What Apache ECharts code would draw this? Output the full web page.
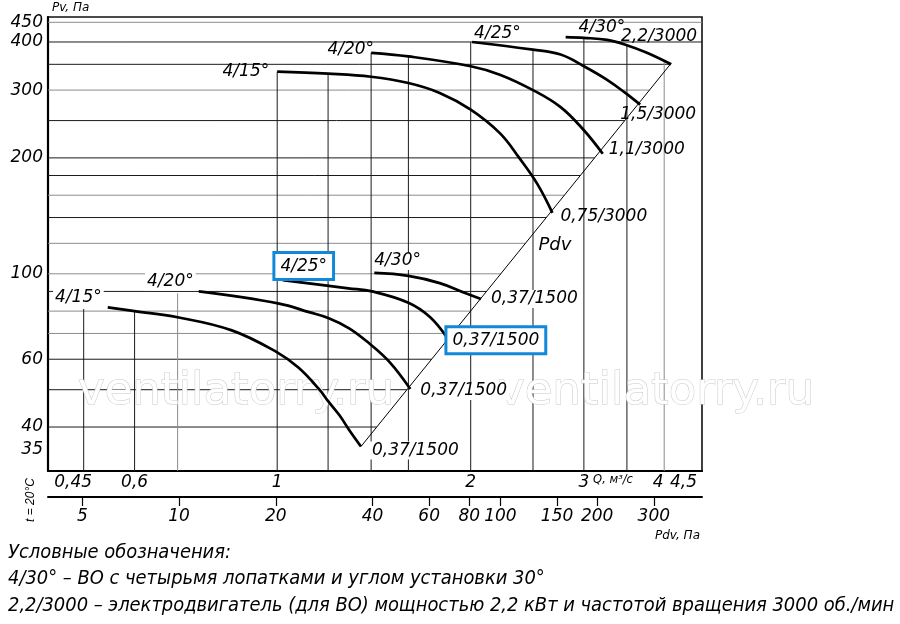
<!DOCTYPE html>
<html>
<head>
<meta charset="utf-8">
<script src="https://cdn.jsdelivr.net/npm/echarts@6/dist/echarts.min.js"></script>
<style>
    html, body { margin: 0; padding: 0; background: #fff; }
    #chart { width: 900px; height: 624px; }
</style>
</head>
<body>
<div id="chart"></div>
<script>
// диапазоны осей (края рамки графика)
const qMin = 0.44, qMax = 4.58;
const pMin = 30.75, pMax = 464.5;
const kDv = 20.2; // нижняя шкала: Pdv = kDv * Q^2

// подписи шкал
const qTicks = [0.45, 0.6, 1, 2, 3, 4, 4.5];
const qNameAt = 3.33;
const pTicks = [35, 40, 60, 100, 200, 300, 400, 450];
const dvTicks = [5, 10, 20, 40, 60, 80, 100, 150, 200, 300];

// сетка: горизонтальные линии доходят до линии Pdv, вертикальные - до кривых
const gridP = [40, 50, 60, 70, 80, 90, 100, 120, 140, 160, 180, 200, 250, 300, 350, 400, 450];
const gridPGray = [450, 300, 160, 120, 100, 80, 70];
const gridQ = [0.5, 0.6, 0.7, 1, 1.2, 1.4, 1.6, 2, 2.5, 3, 3.5, 4];
const gridQTop = [81, 80, 89, 335, 331, 375, 367, 400, 383, 410, 394, 357];
const gridQGray = [0.7, 4];

// линия динамического давления Pdv
const qDv = [1.35, 4.1];
const pDv = [35.6, 352];

// 3000 об/мин
const q15hi = [1.0, 1.2, 1.4, 1.6, 1.79, 2.0, 2.22, 2.38, 2.54, 2.68];
const p15hi = [335, 331, 325, 313, 295, 267, 232, 200, 171, 144];
const q20hi = [1.4, 1.6, 2.0, 2.22, 2.5, 2.76, 3.0, 3.21];
const p20hi = [375, 367, 346, 329, 300, 271, 236, 205];
const q25hi = [2.01, 2.5, 2.76, 3.0, 3.26, 3.48, 3.67];
const p25hi = [400, 382, 371, 346, 319, 295, 275];
const q30hi = [2.81, 3.0, 3.26, 3.49, 3.76, 4.1];
const p30hi = [412, 410, 405, 393, 375, 350];

// 1500 об/мин
const q15lo = [0.545, 0.6, 0.7, 0.85, 1.0, 1.08, 1.16, 1.2, 1.25, 1.294, 1.35];
const p15lo = [81.8, 80, 77.1, 71.3, 62.5, 57.0, 50.3, 46.7, 42.9, 39.3, 35.6];
const q20lo = [0.755, 1.007, 1.121, 1.203, 1.294, 1.39, 1.497, 1.611];
const p20lo = [90, 83.7, 79.5, 76.7, 72.2, 66, 58.9, 50.2];
const q25lo = [1.02, 1.29, 1.405, 1.6, 1.73, 1.84];
const p25lo = [96.3, 91.7, 90, 84.1, 77.1, 68];
const q30lo = [1.416, 1.6, 1.79, 1.965, 2.075];
const p30lo = [100.5, 98.8, 94.6, 89, 86];

const legendLines = [
    "Условные обозначения:",
    "4/30° – ВО с четырьмя лопатками и углом установки 30°",
    "2,2/3000 – электродвигатель (для ВО) мощностью 2,2 кВт и частотой вращения 3000 об./мин",
];

const boxBlue = "#1288d8";
const font = "DejaVu Sans";
const legendFamily = '"DejaVu Sans Condensed", "Liberation Sans"';
const labelFont = { fontFamily: font, fontStyle: "italic", fontSize: 17, color: "#000" };

/**
 * точка кривой (i < 0 - с конца)
 */
function pt(q, p, i) {
    const k = i < 0 ? q.length + i : i;
    return [q[k], p[k]];
}

/**
 * где горизонталь P пересекает линию Pdv (лог-лог прямая)
 */
function qOnDv(p) {
    const t = (Math.log10(p) - Math.log10(pDv[0])) / (Math.log10(pDv[1]) - Math.log10(pDv[0]));
    if (t > 1) return qMax;
    return Math.pow(10, Math.log10(qDv[0]) + t * (Math.log10(qDv[1]) - Math.log10(qDv[0])));
}

/**
 * размер шрифта, при котором строка займёт нужную ширину
 */
function fitFontSize(text, family, width) {
    const ctx = document.createElement("canvas").getContext("2d");
    ctx.font = "italic 100px " + family;
    return Math.min(24, (100 * width) / ctx.measureText(text).width);
}

function segment(points, color) {
    return {
        type: "line",
        data: points,
        symbol: "none",
        silent: true,
        z: 2,
        lineStyle: { color, width: 1 },
    };
}

function curve(q, p) {
    return {
        type: "line",
        data: q.map((v, i) => [v, p[i]]),
        symbol: "none",
        smooth: 0.4,
        z: 5,
        lineStyle: { color: "#000", width: 2.7 },
    };
}

function labelItem(pos, text, align, dx, dy, kind, size) {
    const label = Object.assign({
        show: true,
        formatter: text,
        position: "inside",
        align,
        verticalAlign: "middle",
        offset: [dx, dy],
        lineHeight: 18,
        opacity: 1,
    }, labelFont);
    if (size) label.fontSize = size;
    if (kind === "bg") {
        label.backgroundColor = "#fff";
        label.padding = [0, 2];
    }
    if (kind === "box") {
        label.backgroundColor = "#fff";
        label.borderColor = boxBlue;
        label.borderWidth = 3;
        label.padding = [3, 5];
    }
    return { value: pos, label };
}

const labels = [
    labelItem(pt(q15hi, p15hi, 0), "4/15°", "right", -8, 0),
    labelItem(pt(q20hi, p20hi, 0), "4/20°", "right", 3, -3),
    labelItem(pt(q25hi, p25hi, 0), "4/25°", "left", 2, -8),
    labelItem(pt(q30hi, p30hi, 0), "4/30°", "left", 13, -9),
    labelItem(pt(q30hi, p30hi, -1), "2,2/3000", "left", -50, -28),
    labelItem(pt(q25hi, p25hi, -1), "1,5/3000", "left", -20, 10),
    labelItem(pt(q20hi, p20hi, -1), "1,1/3000", "left", 6, -4),
    labelItem(pt(q15hi, p15hi, -1), "0,75/3000", "left", 8, 4),
    labelItem(pt(q15hi, p15hi, -1), "Pdv", "left", -14, 32, null, 18),
    labelItem(pt(q15lo, p15lo, 0), "4/15°", "right", -4, -10, "bg"),
    labelItem(pt(q20lo, p20lo, 0), "4/20°", "right", -3, -10, "bg"),
    labelItem(pt(q25lo, p25lo, 0), "4/25°", "center", 21, -14, "box"),
    labelItem(pt(q30lo, p30lo, 0), "4/30°", "left", -2, -12, "bg"),
    labelItem(pt(q30lo, p30lo, -1), "0,37/1500", "left", 8, 0, "bg"),
    labelItem(pt(q25lo, p25lo, -1), "0,37/1500", "left", 0, 2, "box"),
    labelItem(pt(q20lo, p20lo, -1), "0,37/1500", "left", 8, 2, "bg"),
    labelItem(pt(q15lo, p15lo, -1), "0,37/1500", "left", 9, 4, "bg"),
];

const series = [];

// горизонтальная сетка
gridP.forEach(p => {
    const color = gridPGray.includes(p) ? "#8c8c8c" : "#1a1a1a";
    series.push(segment([[qMin, p], [qOnDv(p), p]], color));
});

// вертикальная сетка
gridQ.forEach((q, i) => {
    const color = gridQGray.includes(q) ? "#8c8c8c" : "#1a1a1a";
    series.push(segment([[q, pMin], [q, gridQTop[i]]], color));
});

// линия Pdv
series.push({
    type: "line",
    data: qDv.map((v, i) => [v, pDv[i]]),
    symbol: "none",
    z: 4,
    lineStyle: { color: "#000", width: 1 },
});

[
    [q15hi, p15hi], [q20hi, p20hi], [q25hi, p25hi], [q30hi, p30hi],
    [q15lo, p15lo], [q20lo, p20lo], [q25lo, p25lo], [q30lo, p30lo],
].forEach(c => series.push(curve(c[0], c[1])));

series.push({
    type: "scatter",
    symbolSize: 1,
    itemStyle: { color: "rgba(0,0,0,0)", opacity: 1 },
    z: 6,
    data: labels,
});

const axisText = { fontFamily: font, fontStyle: "italic", fontSize: 17, color: "#000" };

function commaNum(v) {
    return String(Math.round(v * 100) / 100).replace(".", ",");
}

function qLabel(v) {
    if (Math.abs(v - qNameAt) < 1e-6) return "{s|Q, м³/с}";
    if (v === 4) return "{n|4}";
    return commaNum(v);
}

const legendSize = fitFontSize(legendLines[2], legendFamily, 885);

const option = {
    animation: false,
    grid: {
        left: 48, right: 198, top: 17, bottom: 153,
        show: true, borderColor: "#111", borderWidth: 1.6,
    },
    xAxis: [
        {
            type: "log",
            min: qMin,
            max: qMax,
            position: "bottom",
            axisLine: { show: true, onZero: false, lineStyle: { color: "#000", width: 2.2 } },
            axisTick: { show: false },
            splitLine: { show: false },
            axisLabel: Object.assign({
                customValues: qTicks.concat(qNameAt).sort((a, b) => a - b),
                margin: 3,
                alignMinLabel: "left",
                alignMaxLabel: "right",
                formatter: qLabel,
                rich: {
                    s: { fontFamily: font, fontStyle: "italic", fontSize: 11.5, color: "#000" },
                    n: { fontFamily: font, fontStyle: "italic", fontSize: 17, color: "#000", padding: [0, 12, 0, 0] },
                },
            }, axisText),
        },
        {
            type: "log",
            min: kDv * qMin * qMin,
            max: kDv * qMax * qMax,
            position: "bottom",
            offset: 26,
            axisLine: { show: true, onZero: false, lineStyle: { color: "#000", width: 2 } },
            axisTick: { show: true, customValues: dvTicks, length: 9, lineStyle: { color: "#000", width: 1.2 } },
            splitLine: { show: false },
            axisLabel: Object.assign({
                customValues: dvTicks,
                margin: 11,
                formatter: v => String(Math.round(v)),
            }, axisText),
            name: "Pdv, Па",
            nameLocation: "end",
            nameGap: -2,
            nameTextStyle: {
                fontFamily: font, fontStyle: "italic", fontSize: 12, color: "#000",
                align: "right", verticalAlign: "top", padding: [33, 0, 0, 0],
            },
        },
    ],
    yAxis: {
        type: "log",
        min: pMin,
        max: pMax,
        axisLine: { show: true, onZero: false, lineStyle: { color: "#000", width: 2.2 } },
        axisTick: { show: false },
        splitLine: { show: false },
        axisLabel: Object.assign({
            customValues: pTicks,
            margin: 5,
            formatter: v => String(Math.round(v)),
        }, axisText),
        name: "Pv, Па",
        nameLocation: "end",
        nameGap: 3,
        nameTextStyle: {
            fontFamily: font, fontStyle: "italic", fontSize: 12, color: "#000",
            align: "left", padding: [0, 0, 0, 4],
        },
    },
    graphic: [
        // водяные знаки
        {
            type: "text", x: 78, y: 392, z: 3, silent: true,
            style: {
                text: "ventilatorry.ru", font: '45px "DejaVu Sans"',
                fill: "#fff", stroke: "#c8c8c8", lineWidth: 1,
                align: "left", verticalAlign: "middle",
            },
        },
        {
            type: "text", x: 498, y: 392, z: 3, silent: true,
            style: {
                text: "ventilatorry.ru", font: '45px "DejaVu Sans"',
                fill: "#fff", stroke: "#c8c8c8", lineWidth: 1,
                align: "left", verticalAlign: "middle",
            },
        },
        {
            type: "text", x: 31, y: 500, rotation: Math.PI / 2,
            style: {
                text: "t = 20°C", font: 'italic 12px "Liberation Sans"', fill: "#000",
                align: "center", verticalAlign: "middle",
            },
        },
    ].concat(legendLines.map((t, i) => ({
        type: "text",
        x: 8,
        y: [553, 579, 606][i],
        style: {
            text: t, font: "italic " + legendSize.toFixed(1) + "px " + legendFamily, fill: "#000",
            align: "left", verticalAlign: "middle",
        },
    }))),
    series,
};

const chart = echarts.init(document.getElementById("chart"), null, { renderer: "canvas" });
chart.setOption(option);
</script>
</body>
</html>
